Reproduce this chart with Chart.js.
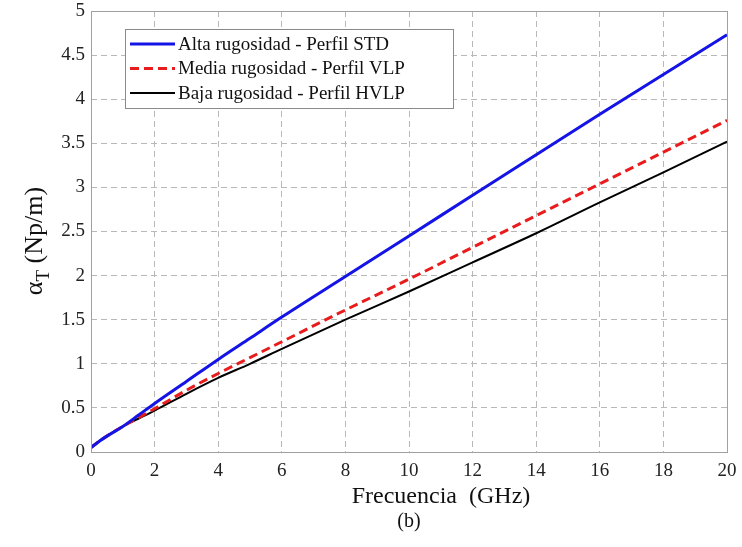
<!DOCTYPE html>
<html>
<head>
<meta charset="utf-8">
<script src="https://cdn.jsdelivr.net/npm/chart.js@4"></script>
<style>
  body { margin: 0; background: #fff; }
  #wrap { width: 742px; height: 547px; }
</style>
</head>
<body>
<div id="wrap"><canvas id="c"></canvas></div>
<script>
const freq = [0, 0.25, 0.5, 1, 1.5, 2, 3, 4, 5, 6, 8, 10, 12, 14, 16, 18, 20]
const alta = [0.05, 0.12, 0.18, 0.29, 0.42, 0.55, 0.80, 1.05, 1.29, 1.53, 1.99, 2.45, 2.91, 3.37, 3.83, 4.28, 4.73]
const media = [0.05, 0.12, 0.18, 0.29, 0.39, 0.49, 0.70, 0.89, 1.07, 1.25, 1.61, 1.96, 2.32, 2.68, 3.04, 3.40, 3.76]
const baja = [0.05, 0.12, 0.18, 0.29, 0.38, 0.47, 0.66, 0.84, 1.00, 1.17, 1.50, 1.82, 2.15, 2.48, 2.83, 3.17, 3.52]
const seriesLabels = ["Alta rugosidad - Perfil STD", "Media rugosidad - Perfil VLP", "Baja rugosidad - Perfil HVLP"]
const xTicks = [0, 2, 4, 6, 8, 10, 12, 14, 16, 18, 20]
const yTicks = [0, 0.5, 1, 1.5, 2, 2.5, 3, 3.5, 4, 4.5, 5]

const serif = "'Liberation Serif', 'DejaVu Serif', serif"
const pts = (ys) => freq.map((x, i) => ({ x: x, y: ys[i] }))

// frame, legend box, axis titles and caption
const decor = {
  id: "decor",
  afterDraw(chart) {
    const { ctx, chartArea: a } = chart
    ctx.save()
    ctx.strokeStyle = "#a0a0a0"
    ctx.lineWidth = 1
    ctx.setLineDash([])
    ctx.strokeRect(a.left + 0.5, a.top + 0.5, a.right - a.left, a.bottom - a.top)

    // legend
    const lx = 125, ly = 29, lw = 328, lh = 79
    ctx.fillStyle = "#fff"
    ctx.fillRect(lx, ly, lw, lh)
    ctx.strokeStyle = "#8a8a8a"
    ctx.strokeRect(lx + 0.5, ly + 0.5, lw, lh)
    ctx.font = "19px " + serif
    ctx.textBaseline = "middle"
    chart.data.datasets.forEach((ds, i) => {
      const y = ly + 15 + i * 24.5
      ctx.strokeStyle = ds.borderColor
      ctx.lineWidth = ds.borderWidth
      ctx.setLineDash(ds.borderDash || [])
      ctx.beginPath()
      ctx.moveTo(lx + 5, y)
      ctx.lineTo(lx + 50, y)
      ctx.stroke()
      ctx.setLineDash([])
      ctx.fillStyle = "#111"
      ctx.textAlign = "left"
      ctx.fillText(ds.label, lx + 53, y + 1)
    })

    // x title + caption
    ctx.fillStyle = "#111"
    ctx.textAlign = "center"
    ctx.font = "24px " + serif
    ctx.fillText("Frecuencia  (GHz)", 441, 497)
    ctx.font = "20px " + serif
    ctx.fillText("(b)", 409, 522)

    // y title with subscript
    ctx.translate(33, 241)
    ctx.rotate(-Math.PI / 2)
    ctx.textAlign = "left"
    ctx.textBaseline = "alphabetic"
    const big = "26px " + serif
    const small = "19px " + serif
    ctx.font = big
    const wA = ctx.measureText("\u03b1").width
    ctx.font = small
    const wT = ctx.measureText("T").width
    ctx.font = big
    const rest = " (Np/m)"
    const wR = ctx.measureText(rest).width
    const x0 = -(wA + wT + wR) / 2
    ctx.fillText("\u03b1", x0, 9)
    ctx.font = small
    ctx.fillText("T", x0 + wA, 16)
    ctx.font = big
    ctx.fillText(rest, x0 + wA + wT, 9)
    ctx.restore()
  }
}

new Chart(document.getElementById("c"), {
  type: "line",
  data: {
    datasets: [
      {
        label: seriesLabels[0],
        data: pts(alta),
        borderColor: "#1414e6",
        borderWidth: 3,
        pointRadius: 0,
        cubicInterpolationMode: "monotone"
      },
      {
        label: seriesLabels[1],
        data: pts(media),
        borderColor: "#e81c1c",
        borderWidth: 3,
        borderDash: [9, 5],
        pointRadius: 0,
        cubicInterpolationMode: "monotone"
      },
      {
        label: seriesLabels[2],
        data: pts(baja),
        borderColor: "#000",
        borderWidth: 2,
        pointRadius: 0,
        cubicInterpolationMode: "monotone"
      }
    ]
  },
  options: {
    responsive: true,
    maintainAspectRatio: false,
    animation: false,
    layout: { autoPadding: false, padding: { top: 11, right: 15, left: 0, bottom: 0 } },
    plugins: {
      legend: { display: false },
      tooltip: { enabled: false }
    },
    scales: {
      x: {
        type: "linear",
        min: 0,
        max: 20,
        afterBuildTicks: (s) => { s.ticks = xTicks.map(v => ({ value: v })) },
        afterFit: (s) => { s.height = 95; s.paddingLeft = 0; s.paddingRight = 0 },
        border: { display: false, dash: [6, 4] },
        grid: { color: "#b8b8b8", drawTicks: false },
        ticks: {
          color: "#222",
          padding: 8,
          maxRotation: 0,
          font: { family: serif, size: 19 },
          callback: (v) => String(v)
        }
      },
      y: {
        min: 0,
        max: 5,
        afterBuildTicks: (s) => { s.ticks = yTicks.map(v => ({ value: v })) },
        afterFit: (s) => { s.width = 91; s.paddingTop = 0; s.paddingBottom = 0 },
        border: { display: false, dash: [6, 4] },
        grid: { color: "#b8b8b8", drawTicks: false },
        ticks: {
          color: "#222",
          padding: 6,
          font: { family: serif, size: 19 },
          callback: (v) => String(v)
        }
      }
    }
  },
  plugins: [decor]
})
</script>
</body>
</html>
